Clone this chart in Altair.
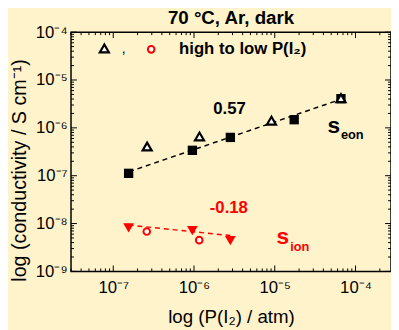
import json
import altair as alt
import pandas as pd

# ---------------- data ----------------
# electronic conductivity, filled squares
p_eon_sq = [1.55e-7, 9.55e-7, 2.82e-6, 1.74e-5, 6.6e-5]
s_eon_sq = [1.12e-7, 3.39e-7, 6.31e-7, 1.48e-6, 4.07e-6]
# electronic conductivity, open triangles (high to low P(I2))
p_eon_tri = [2.63e-7, 1.17e-6, 9.1e-6, 6.6e-5]
s_eon_tri = [4.07e-7, 6.6e-7, 1.41e-6, 4.17e-6]
# ionic conductivity, filled down triangles
p_ion_tri = [1.55e-7, 9.55e-7, 2.82e-6]
s_ion_tri = [8.1e-9, 7.1e-9, 4.4e-9]
# ionic conductivity, open circles (high to low P(I2))
p_ion_circ = [2.6e-7, 1.16e-6]
s_ion_circ = [6.8e-9, 4.5e-9]
# fitted lines (end points)
fit_eon_p = [1.57e-7, 6.5e-5]
fit_eon_s = [1.21e-7, 3.92e-6]
fit_ion_p = [1.55e-7, 2.82e-6]
fit_ion_s = [9.3e-9, 5.6e-9]

# axes
x_domain = [3e-8, 2.75e-4]
y_domain = [1e-9, 1e-4]
x_ticks = [1e-7, 1e-6, 1e-5, 1e-4]
x_tick_labels = ["10\u207b\u2077", "10\u207b\u2076", "10\u207b\u2075", "10\u207b\u2074"]
y_ticks = [1e-9, 1e-8, 1e-7, 1e-6, 1e-5, 1e-4]
y_tick_labels = ["10\u207b\u2079", "10\u207b\u2078", "10\u207b\u2077",
                 "10\u207b\u2076", "10\u207b\u2075", "10\u207b\u2074"]
x_minor = [k * 10.0 ** d for d in range(-8, -3) for k in range(2, 10)
           if x_domain[0] < k * 10.0 ** d < x_domain[1]]
y_minor = [k * 10.0 ** d for d in range(-9, -4) for k in range(2, 10)]

# texts
title_text = "70 \u00b0C, Ar, dark"
x_title = "log (P(I\u2082) / atm)"
y_title = "log (conductivity / S cm\u207b\u00b9)"
legend_text = "high to low P(I\u2082)"

W, H = 325, 243
FONT = "Liberation Sans"
RED = "#ff0000"
BG = "#fff3cc"

xs = alt.Scale(type="log", domain=x_domain, nice=False)
ys = alt.Scale(type="log", domain=y_domain, nice=False)

x_expr = json.dumps(x_tick_labels, ensure_ascii=False) + "[round(log(datum.value)/LN10)+7]"
y_expr = json.dumps(y_tick_labels, ensure_ascii=False) + "[round(log(datum.value)/LN10)+9]"

x_axis = alt.Axis(values=x_ticks, labelExpr=x_expr, ticks=False, domain=False, grid=False,
                  labelFontSize=17, labelPadding=8, labelColor="black", labelFont=FONT,
                  title=x_title, titleFontSize=19, titleFontWeight="normal", titleFont=FONT,
                  titleColor="black", titleY=52, titleBaseline="alphabetic")
y_axis = alt.Axis(values=y_ticks, labelExpr=y_expr, ticks=False, domain=False, grid=False,
                  labelFontSize=17, labelPadding=4, labelColor="black", labelFont=FONT,
                  title=y_title, titleFontSize=20, titleFontWeight="normal", titleFont=FONT,
                  titleColor="black", titleX=-52, titleY=140, titleBaseline="middle",
                  titleAngle=270)


def pts(px, py):
    return pd.DataFrame({"p": px, "s": py})


def XE():
    return alt.X("p:Q", scale=xs, axis=x_axis)


def YE():
    return alt.Y("s:Q", scale=ys, axis=y_axis)


layers = []

# fitted dashed lines
layers.append(alt.Chart(pts(fit_eon_p, fit_eon_s)).mark_line(
    color="black", strokeDash=[5, 4], strokeWidth=1.5).encode(x=XE(), y=YE()))
layers.append(alt.Chart(pts(fit_ion_p, fit_ion_s)).mark_line(
    color=RED, strokeDash=[5, 4], strokeWidth=1.5).encode(x=XE(), y=YE()))

# markers
layers.append(alt.Chart(pts(p_eon_sq, s_eon_sq)).mark_point(
    shape="square", filled=True, color="black", size=90, opacity=1).encode(x=XE(), y=YE()))
layers.append(alt.Chart(pts(p_eon_tri, s_eon_tri)).mark_point(
    shape="triangle-up", filled=False, fill="white", fillOpacity=1, stroke="black",
    strokeWidth=2.2, size=85, opacity=1).encode(x=XE(), y=YE()))
layers.append(alt.Chart(pts(p_ion_tri, s_ion_tri)).mark_point(
    shape="triangle-down", filled=True, color=RED, size=120, opacity=1).encode(x=XE(), y=YE()))
layers.append(alt.Chart(pts(p_ion_circ, s_ion_circ)).mark_point(
    shape="circle", filled=False, fill="white", fillOpacity=1, stroke=RED,
    strokeWidth=2, size=45, opacity=1).encode(x=XE(), y=YE()))

# legend inside plot
layers.append(alt.Chart(pts([7.76e-8], [4.57e-5])).mark_point(
    shape="triangle-up", filled=False, fill="white", fillOpacity=1, stroke="black",
    strokeWidth=2.2, size=85, opacity=1).encode(x=XE(), y=YE()))
layers.append(alt.Chart(pts([2.95e-7], [4.37e-5])).mark_point(
    shape="circle", filled=False, fill="white", fillOpacity=1, stroke=RED,
    strokeWidth=2, size=45, opacity=1).encode(x=XE(), y=YE()))


def txt(px, py, t, size, color="black", weight="bold", align="center", baseline="alphabetic"):
    df = pd.DataFrame({"p": [px], "s": [py], "t": [t]})
    return alt.Chart(df).mark_text(fontSize=size, color=color, fontWeight=weight, font=FONT,
                                   align=align, baseline=baseline).encode(
        x=XE(), y=YE(), text="t:N")


layers.append(txt(1.35e-7, 3.7e-5, ",", 14, weight="normal"))
layers.append(txt(6.53e-7, 3.55e-5, legend_text, 17, align="left"))
layers.append(txt(2.75e-6, 2.43e-6, "0.57", 17, baseline="middle"))
layers.append(txt(2.7e-6, 2.09e-8, "-0.18", 17, color=RED, baseline="middle"))
layers.append(txt(5.37e-5, 7.94e-7, "s", 23))
layers.append(txt(6.6e-5, 5.75e-7, "eon", 13, align="left"))
layers.append(txt(1.26e-5, 3.8e-9, "s", 23, color=RED))
layers.append(txt(1.55e-5, 2.69e-9, "ion", 13, color=RED, align="left"))


# inward ticks on all four sides
def xtick_layers(vals, length):
    df = pd.DataFrame({"p": vals})
    base = alt.Chart(df).mark_rule(color="black", strokeWidth=1)
    return [base.encode(x=XE(), y=alt.value(H), y2=alt.value(H - length)),
            base.encode(x=XE(), y=alt.value(0), y2=alt.value(length))]


def ytick_layers(vals, length):
    df = pd.DataFrame({"s": vals})
    base = alt.Chart(df).mark_rule(color="black", strokeWidth=1)
    return [base.encode(y=YE(), x=alt.value(0), x2=alt.value(length)),
            base.encode(y=YE(), x=alt.value(W), x2=alt.value(W - length))]


layers += xtick_layers(x_ticks, 6) + xtick_layers(x_minor, 3)
layers += ytick_layers(y_ticks, 6) + ytick_layers(y_minor, 3)

chart = alt.layer(*layers).properties(
    width=W, height=H,
    title=alt.Title(title_text, fontSize=19, fontWeight="bold", font=FONT, color="black",
                    anchor="middle", frame="group", offset=0, baseline="alphabetic", dy=20),
    autosize=alt.AutoSizeParams(type="none"),
    padding={"left": 64, "top": 22, "right": 0, "bottom": 57},
    background=BG,
).configure_view(stroke="black", strokeWidth=1.5)

chart.save("out.html", embed_options={"renderer": "svg", "actions": False})
